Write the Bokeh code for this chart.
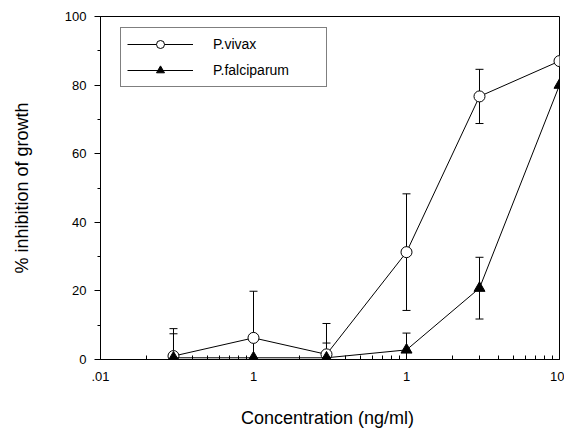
from bokeh.plotting import figure
from bokeh.models import (Range1d, FixedTicker, SingleIntervalTicker, Whisker,
                          TeeHead, ColumnDataSource)
from bokeh.embed import file_html
from bokeh.resources import INLINE

# ---- data ----
conc = [0.03, 0.1, 0.3, 1, 3, 10]
vivax = [1.0, 6.3, 1.5, 31.3, 76.7, 87.0]
vivax_err = [8.0, 13.6, 9.0, 17.0, 7.9, 0.0]
falciparum = [0.5, 0.5, 0.5, 2.8, 20.8, 80.0]
falciparum_err = [7.0, 0.0, 4.3, 4.9, 9.0, 0.0]

x_ticks = [0.01, 0.1, 1, 10]
x_tick_labels = [".01", "1", "1", "10"]
y_tick_step = 20

FONT = "Liberation Sans"

p = figure(width=564, height=430, x_axis_type="log",
           x_range=Range1d(0.01, 10), y_range=Range1d(0, 100),
           output_backend="svg", toolbar_location=None,
           min_border_left=100, min_border_right=5,
           min_border_top=16, min_border_bottom=71)

p.xgrid.visible = False
p.ygrid.visible = False
p.outline_line_color = "black"
p.outline_line_width = 1
p.background_fill_color = "white"
p.border_fill_color = "white"

# x axis
minor = [m * d for d in (0.01, 0.1, 1) for m in range(2, 10)]
p.xaxis.ticker = FixedTicker(ticks=x_ticks, minor_ticks=minor)
p.xaxis.major_label_overrides = {t: l for t, l in zip(x_ticks, x_tick_labels)}
p.xaxis.major_tick_in = 5
p.xaxis.major_tick_out = 0
p.xaxis.minor_tick_in = 4
p.xaxis.minor_tick_out = 0
p.xaxis.major_label_standoff = 12
p.xaxis.axis_label = "Concentration  (ng/ml)"
p.xaxis.axis_label_standoff = 24

# y axis
p.yaxis.ticker = SingleIntervalTicker(interval=y_tick_step, num_minor_ticks=2)
p.yaxis.major_tick_in = 0
p.yaxis.major_tick_out = 6
p.yaxis.minor_tick_in = 0
p.yaxis.minor_tick_out = 3
p.yaxis.major_label_standoff = 8
p.yaxis.axis_label = "% inhibition of growth"
p.yaxis.axis_label_standoff = 30

for ax in (p.xaxis, p.yaxis):
    ax.axis_line_color = "black"
    ax.major_tick_line_color = "black"
    ax.minor_tick_line_color = "black"
    ax.major_label_text_font = FONT
    ax.major_label_text_font_size = "13px"
    ax.major_label_text_color = "black"
    ax.axis_label_text_font = FONT
    ax.axis_label_text_font_size = "18px"
    ax.axis_label_text_font_style = "normal"
    ax.axis_label_text_color = "black"

# error bars
def whisker_source(y, err):
    xs = [x for x, e in zip(conc, err) if e > 0]
    up = [v + e for v, e in zip(y, err) if e > 0]
    lo = [v - e for v, e in zip(y, err) if e > 0]
    return ColumnDataSource(dict(base=xs, upper=up, lower=lo))

for y, err in ((vivax, vivax_err), (falciparum, falciparum_err)):
    w = Whisker(source=whisker_source(y, err), base="base", upper="upper",
                lower="lower", dimension="height", line_color="black",
                line_width=1,
                upper_head=TeeHead(size=8, line_color="black", line_width=1),
                lower_head=TeeHead(size=8, line_color="black", line_width=1))
    p.add_layout(w)

# series
p.line(conc, vivax, line_color="black", line_width=1, legend_label="P.vivax")
p.scatter(conc, vivax, marker="circle", size=11, fill_color="white",
          line_color="black", line_width=1, legend_label="P.vivax")
p.line(conc, falciparum, line_color="black", line_width=1,
       legend_label="P.falciparum")
p.scatter(conc, falciparum, marker="triangle", size=11, fill_color="black",
          line_color="black", line_width=1, legend_label="P.falciparum")

leg = p.legend[0]
leg.location = (20, 272)
leg.border_line_color = "black"
leg.border_line_width = 1
leg.background_fill_color = "white"
leg.background_fill_alpha = 1
leg.glyph_width = 66
leg.glyph_height = 20
leg.label_height = 20
leg.label_width = 107
leg.label_standoff = 20
leg.padding = 6
leg.spacing = 6
leg.margin = 0
leg.label_text_font = FONT
leg.label_text_font_size = "14px"
leg.label_text_color = "black"

open("out.html", "w").write(file_html(p, INLINE))
